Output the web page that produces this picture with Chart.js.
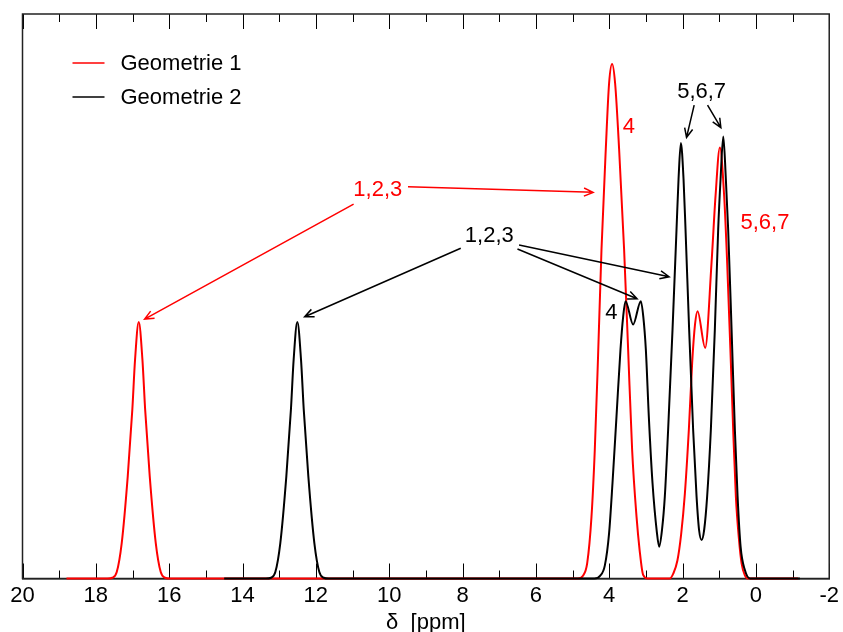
<!DOCTYPE html>
<html>
<head>
<meta charset="utf-8">
<script src="https://cdn.jsdelivr.net/npm/chart.js@4.4.1/dist/chart.umd.min.js"></script>
<style>
  html, body { margin: 0; padding: 0; background: #ffffff; }
  canvas { display: block; }
</style>
</head>
<body>
<canvas id="spectrum" width="843" height="632"></canvas>
<script>
// ============================================================
// 1H NMR spectra of two geometries (shift in ppm, intensity)
// ============================================================

const RED = '#ff0000';
const BLACK = '#000000';
const FONT = "'Liberation Sans', Arial, Helvetica, sans-serif";

// Geometrie 1
const geo1Shift = [
  18.8, 17.68, 17.55, 17.43, 17.295, 17.13, 17.005, 16.93, 16.83, 16.73, 16.655, 16.53, 16.365, 16.23, 16.11, 15.98,
  4.85, 4.72, 4.60, 4.483, 4.393, 4.303, 4.21, 4.093, 4.003, 3.921, 3.839, 3.73, 3.594, 3.484, 3.375, 3.255, 3.17, 3.075, 2.95,
  2.35, 2.25, 2.14, 2.04, 1.937, 1.828, 1.738, 1.66, 1.591, 1.383, 1.209, 1.10, 0.982, 0.865, 0.783, 0.682, 0.619, 0.546, 0.46, 0.39, 0.30, 0.22,
  -1.15
];
const geo1Intensity = [
  0, 0, 0.003, 0.025, 0.137, 0.398, 0.658, 0.854, 1.0, 0.854, 0.658, 0.398, 0.137, 0.025, 0.003, 0,
  0, 0.01, 0.06, 0.241, 0.502, 0.87, 1.283, 1.674, 1.93, 2.005, 1.93, 1.674, 1.283, 0.893, 0.502, 0.241, 0.11, 0.014, 0,
  0, 0.02, 0.07, 0.17, 0.33, 0.58, 0.84, 0.99, 1.042, 0.899, 1.231, 1.491, 1.68, 1.491, 1.231, 0.84, 0.58, 0.32, 0.15, 0.059, 0.012, 0,
  0
];

// Geometrie 2
const geo2Shift = [
  14.5, 13.36, 13.225, 13.105, 12.97, 12.805, 12.68, 12.605, 12.505, 12.405, 12.33, 12.205, 12.04, 11.905, 11.785, 11.655,
  4.40, 4.25, 4.12, 4.003, 3.91, 3.801, 3.692, 3.62, 3.555, 3.348, 3.138, 3.07, 3.001, 2.92, 2.819, 2.70, 2.638, 2.56,
  2.483, 2.393, 2.273, 2.164, 2.109, 2.046, 1.973, 1.919, 1.82, 1.711, 1.618, 1.55, 1.48, 1.41,
  1.329, 1.228, 1.119, 1.028, 0.963, 0.889, 0.819, 0.756, 0.663, 0.573, 0.499, 0.417, 0.30, 0.16,
  -1.2
];
const geo2Intensity = [
  0, 0, 0.003, 0.025, 0.137, 0.398, 0.658, 0.854, 1.0, 0.854, 0.658, 0.398, 0.137, 0.025, 0.003, 0,
  0, 0.01, 0.05, 0.177, 0.372, 0.632, 0.893, 1.02, 1.081, 0.99, 1.081, 1.02, 0.893, 0.632, 0.372, 0.18, 0.124, 0.19,
  0.32, 0.58, 0.971, 1.361, 1.557, 1.697, 1.557, 1.361, 0.971, 0.58, 0.32, 0.19, 0.15, 0.19,
  0.32, 0.58, 0.971, 1.361, 1.557, 1.723, 1.557, 1.361, 0.971, 0.58, 0.32, 0.124, 0.033, 0,
  0
];

// x axis labels (ppm)
const shiftTicks = [20, 18, 16, 14, 12, 10, 8, 6, 4, 2, 0, -2];

// peak assignments (ppm, intensity)
const peakLabels = [
  { text: '1,2,3', x: 10.31, y: 1.514, color: RED },
  { text: '1,2,3', x: 7.27, y: 1.335, color: BLACK },
  { text: '4', x: 3.465, y: 1.758, color: RED },
  { text: '4', x: 3.94, y: 1.034, color: BLACK },
  { text: '5,6,7', x: 1.48, y: 1.897, color: BLACK },
  { text: '5,6,7', x: -0.246, y: 1.384, color: RED }
];
const peakArrows = [
  { from: [10.97, 1.459], to: [16.67, 1.011], color: RED },
  { from: [9.487, 1.527], to: [4.439, 1.505], color: RED },
  { from: [8.049, 1.287], to: [12.306, 1.020], color: BLACK },
  { from: [6.458, 1.300], to: [2.366, 1.176], color: BLACK },
  { from: [6.502, 1.284], to: [3.239, 1.090], color: BLACK },
  { from: [1.683, 1.845], to: [1.891, 1.719], color: BLACK },
  { from: [1.318, 1.845], to: [0.955, 1.757], color: BLACK }
];

function toPoints(xs, ys) {
  return xs.map((x, i) => ({ x: x, y: ys[i] }));
}

// box round the plot + inward ticks on top and bottom
const frameTicks = {
  id: 'frameTicks',
  beforeDatasetsDraw(chart) {
    const { ctx, chartArea: a, scales: { x } } = chart;
    ctx.save();
    ctx.strokeStyle = '#000';
    ctx.lineWidth = 1;
    for (let v = -2; v <= 20; v++) {
      const px = Math.round(x.getPixelForValue(v)) + 0.5;
      const len = v % 2 === 0 ? 15 : 8;
      ctx.beginPath();
      ctx.moveTo(px, a.bottom);
      ctx.lineTo(px, a.bottom - len);
      ctx.moveTo(px, a.top);
      ctx.lineTo(px, a.top + len);
      ctx.stroke();
    }
    ctx.strokeStyle = '#222';
    ctx.lineWidth = 1.5;
    ctx.strokeRect(a.left, a.top, a.right - a.left, a.bottom - a.top);
    ctx.restore();
  }
};

function drawArrow(ctx, x0, y0, x1, y1) {
  const ang = Math.atan2(y1 - y0, x1 - x0);
  const head = 10, spread = 0.42;
  ctx.beginPath();
  ctx.moveTo(x0, y0);
  ctx.lineTo(x1, y1);
  ctx.moveTo(x1 - head * Math.cos(ang - spread), y1 - head * Math.sin(ang - spread));
  ctx.lineTo(x1, y1);
  ctx.lineTo(x1 - head * Math.cos(ang + spread), y1 - head * Math.sin(ang + spread));
  ctx.stroke();
}

// peak labels, arrows and the legend inside the frame
const annotations = {
  id: 'annotations',
  afterDatasetsDraw(chart) {
    const { ctx, chartArea: a, scales: { x, y } } = chart;
    ctx.save();
    ctx.font = '22px ' + FONT;
    ctx.textAlign = 'center';
    ctx.textBaseline = 'middle';
    peakLabels.forEach(l => {
      ctx.fillStyle = l.color;
      ctx.fillText(l.text, x.getPixelForValue(l.x), y.getPixelForValue(l.y));
    });
    ctx.lineWidth = 1.5;
    peakArrows.forEach(ar => {
      ctx.strokeStyle = ar.color;
      drawArrow(ctx,
        x.getPixelForValue(ar.from[0]), y.getPixelForValue(ar.from[1]),
        x.getPixelForValue(ar.to[0]), y.getPixelForValue(ar.to[1]));
    });

    // legend
    const sets = chart.data.datasets.slice().sort((p, q) => p.legendIndex - q.legendIndex);
    ctx.textAlign = 'left';
    sets.forEach((ds, i) => {
      const ly = a.top + 49 + i * 34;
      ctx.strokeStyle = ds.borderColor;
      ctx.lineWidth = 1.5;
      ctx.beginPath();
      ctx.moveTo(a.left + 50, ly);
      ctx.lineTo(a.left + 82, ly);
      ctx.stroke();
      ctx.fillStyle = '#000';
      ctx.fillText(ds.label, a.left + 98, ly + 1);
    });
    ctx.restore();
  }
};

new Chart(document.getElementById('spectrum').getContext('2d'), {
  type: 'line',
  data: {
    datasets: [
      {
        label: 'Geometrie 1',
        legendIndex: 0,
        order: 2,
        data: toPoints(geo1Shift, geo1Intensity),
        borderColor: RED,
        borderWidth: 2,
        pointRadius: 0,
        fill: false,
        cubicInterpolationMode: 'monotone',
        clip: 4,
      },
      {
        label: 'Geometrie 2',
        legendIndex: 1,
        order: 1,
        data: toPoints(geo2Shift, geo2Intensity),
        borderColor: BLACK,
        borderWidth: 2,
        pointRadius: 0,
        fill: false,
        cubicInterpolationMode: 'monotone',
        clip: 4,
      },
    ],
  },
  options: {
    responsive: false,
    animation: false,
    layout: { padding: { left: 22.5, right: 13.5, top: 14, bottom: 0 } },
    plugins: {
      legend: { display: false },
      tooltip: { enabled: false },
    },
    scales: {
      x: {
        type: 'linear',
        reverse: true,
        min: -2,
        max: 20,
        afterBuildTicks: (scale) => { scale.ticks = shiftTicks.map(v => ({ value: v })); },
        afterFit: (scale) => { scale.height = 53.5; },
        grid: { display: false, drawTicks: false },
        border: { display: true, color: '#000', width: 1.5 },
        ticks: { color: '#000', padding: 4, maxRotation: 0, font: { family: FONT, size: 22 } },
        title: {
          display: true,
          text: 'δ  [ppm]',
          color: '#000',
          padding: { top: 0, bottom: -4 },
          font: { family: FONT, size: 22 },
        },
      },
      y: {
        display: false,
        min: 0,
        max: 2.2,
      },
    },
  },
  plugins: [frameTicks, annotations],
});
</script>
</body>
</html>
